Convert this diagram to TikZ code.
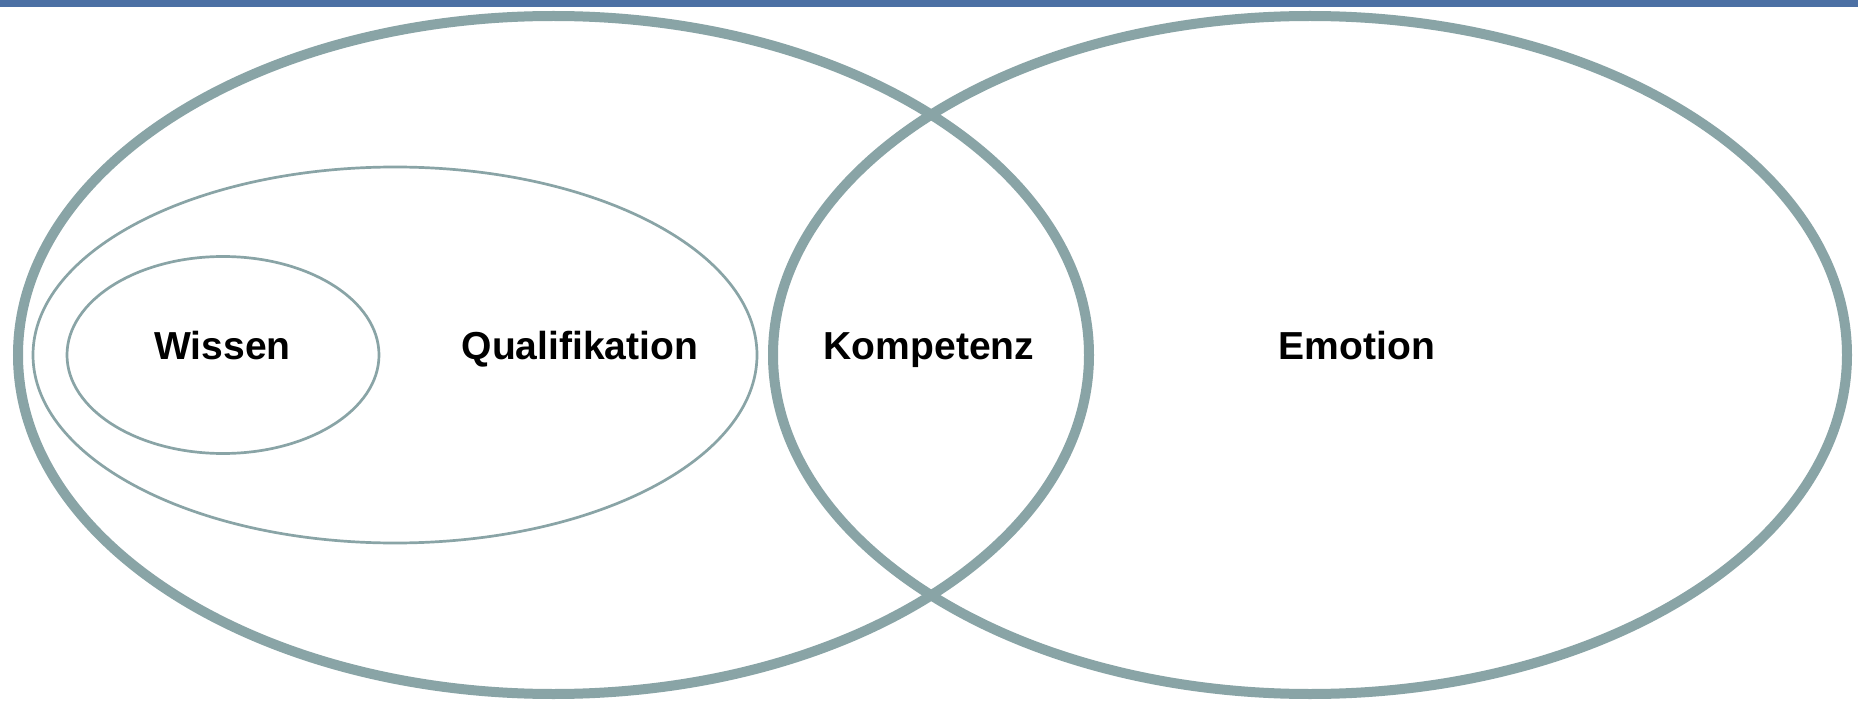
\documentclass[tikz,border=0pt]{standalone}
\usepackage{fontspec}
\setmainfont{Liberation Sans}
\begin{document}
\definecolor{ringgray}{RGB}{137,164,166}
\definecolor{barblue}{RGB}{76,112,164}
\begin{tikzpicture}[x=0.5bp,y=-0.5bp,
  outerring/.style={draw=ringgray,line width=5bp},
  innerring/.style={draw=ringgray,line width=1.35bp},
  label/.style={anchor=base,inner sep=0pt,font=\fontsize{19.6pt}{22pt}\selectfont\bfseries}]
  % canvas and top rule
  \useasboundingbox (0,0) rectangle (1858,701);
  \fill[white] (0,0) rectangle (1858,701);
  \fill[barblue] (0,0) rectangle (1858,7.3);

  % ring centres
  \coordinate (cLeft) at (553.5,355);
  \coordinate (cRight) at (1310,355);
  \coordinate (cQual) at (395,355);
  \coordinate (cWiss) at (223,355);

  % nested rings on the left, overlapping ring on the right
  \draw[innerring] (cWiss) ellipse [x radius=156, y radius=98.5];
  \draw[innerring] (cQual) ellipse [x radius=362, y radius=188];
  \draw[outerring] (cLeft) ellipse [x radius=535.5, y radius=339];
  \draw[outerring] (cRight) ellipse [x radius=537, y radius=339];

  % labels
  \node[label] (wissen) at (222.5,359) {Wissen};
  \node[label] (qual) at (580,359) {Qualifikation};
  \node[label] (komp) at (929,359) {Kompetenz};
  \node[label] (emo) at (1357,359) {Emotion};
\end{tikzpicture}
\end{document}
